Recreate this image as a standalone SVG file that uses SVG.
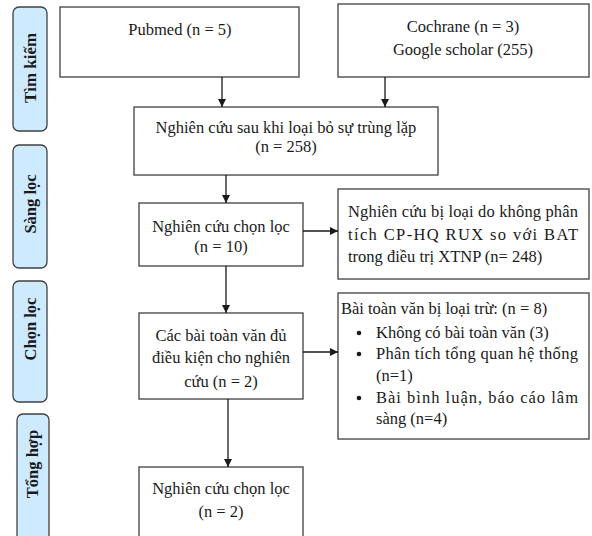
<svg xmlns="http://www.w3.org/2000/svg" width="592" height="536" viewBox="0 0 592 536">
<style>
.bg{fill:#ffffff}
.box{fill:#ffffff;stroke:#404040;stroke-width:1.3}
.lab{fill:#cdeaff;stroke:#404040;stroke-width:1.3}
.t{font-family:"Liberation Serif","Times New Roman",serif;font-size:16.5px;fill:#1a1a1a}
.m{text-anchor:middle}
.lt{font-family:"Liberation Serif","Times New Roman",serif;font-size:16.5px;font-weight:bold;fill:#1a1a1a;text-anchor:middle}
.c{fill:none;stroke:#1a1a1a;stroke-width:1.3}
</style>
<defs>
<marker id="ah" viewBox="0 0 8 8" refX="8" refY="4" markerWidth="8" markerHeight="8" markerUnits="userSpaceOnUse" orient="auto">
<path d="M0,0 L8,4 L0,8 z" fill="#1a1a1a"/>
</marker>
</defs>
<rect class="bg" x="0" y="0" width="592" height="536"/>
<g id="label-timkiem"><rect class="lab" x="13" y="7" width="34" height="124" rx="6"/><text class="lt" transform="translate(36,68) rotate(-90)" textLength="70" lengthAdjust="spacingAndGlyphs">Tìm kiếm</text></g>
<g id="label-sangloc"><rect class="lab" x="13" y="145" width="34" height="123" rx="6"/><text class="lt" transform="translate(36,204) rotate(-90)">Sàng lọc</text></g>
<g id="label-chonloc"><rect class="lab" x="13" y="281" width="34" height="121" rx="6"/><text class="lt" transform="translate(36,329) rotate(-90)">Chọn lọc</text></g>
<g id="label-tonghop"><rect class="lab" x="17" y="414" width="32" height="135" rx="6"/><text class="lt" transform="translate(38,464) rotate(-90)">Tổng hợp</text></g>

<g id="pubmed"><rect class="box" x="60" y="7" width="239" height="70"/><text class="t m" x="180" y="35">Pubmed (n = 5)</text></g>
<g id="cochrane"><rect class="box" x="338" y="4" width="251" height="73"/><text class="t m" x="463" y="32">Cochrane (n = 3)</text><text class="t m" x="463" y="55">Google scholar (255)</text></g>
<g id="dedup"><rect class="box" x="134" y="107" width="304" height="68"/><text class="t m" x="286" y="133">Nghiên cứu sau khi loại bỏ sự trùng lặp</text><text class="t m" x="286" y="152">(n = 258)</text></g>
<g id="screened"><rect class="box" x="139" y="203" width="164" height="63"/><text class="t m" x="221" y="232">Nghiên cứu chọn lọc</text><text class="t m" x="221" y="252">(n = 10)</text></g>
<g id="excluded1"><rect class="box" x="338" y="189" width="251" height="90"/>
<text class="t" x="348" y="217" textLength="230" lengthAdjust="spacing">Nghiên cứu bị loại do không phân</text>
<text class="t" x="348" y="240" textLength="230" lengthAdjust="spacing">tích CP-HQ RUX so với BAT</text>
<text class="t" x="348" y="262">trong điều trị XTNP (n= 248)</text></g>
<g id="fulltext"><rect class="box" x="139" y="313" width="164" height="86"/><text class="t m" x="221" y="341">Các bài toàn văn đủ</text><text class="t m" x="221" y="363">điều kiện cho nghiên</text><text class="t m" x="221" y="387">cứu (n = 2)</text></g>
<g id="excluded2"><rect class="box" x="338" y="293" width="251" height="146"/>
<text class="t" x="341" y="314">Bài toàn văn bị loại trừ: (n = 8)</text>
<circle cx="359" cy="333" r="2.3" fill="#1a1a1a"/><text class="t" x="376" y="338">Không có bài toàn văn (3)</text>
<circle cx="359" cy="354" r="2.3" fill="#1a1a1a"/><text class="t" x="376" y="359" textLength="202" lengthAdjust="spacing">Phân tích tổng quan hệ thống</text>
<text class="t" x="376" y="381">(n=1)</text>
<circle cx="359" cy="398" r="2.3" fill="#1a1a1a"/><text class="t" x="376" y="403" textLength="202" lengthAdjust="spacing">Bài bình luận, báo cáo lâm</text>
<text class="t" x="376" y="424">sàng (n=4)</text></g>
<g id="included"><rect class="box" x="139" y="467" width="164" height="80"/><text class="t m" x="221" y="494">Nghiên cứu chọn lọc</text><text class="t m" x="221" y="517">(n = 2)</text></g>

<g id="connectors">
<line class="c" x1="222" y1="77" x2="222" y2="107" marker-end="url(#ah)"/>
<line class="c" x1="385" y1="77" x2="385" y2="107" marker-end="url(#ah)"/>
<line class="c" x1="226" y1="175" x2="226" y2="203" marker-end="url(#ah)"/>
<line class="c" x1="303" y1="231" x2="338" y2="231" marker-end="url(#ah)"/>
<line class="c" x1="226" y1="266" x2="226" y2="313" marker-end="url(#ah)"/>
<line class="c" x1="303" y1="352" x2="338" y2="352" marker-end="url(#ah)"/>
<line class="c" x1="228" y1="399" x2="228" y2="467" marker-end="url(#ah)"/>
</g>
</svg>
